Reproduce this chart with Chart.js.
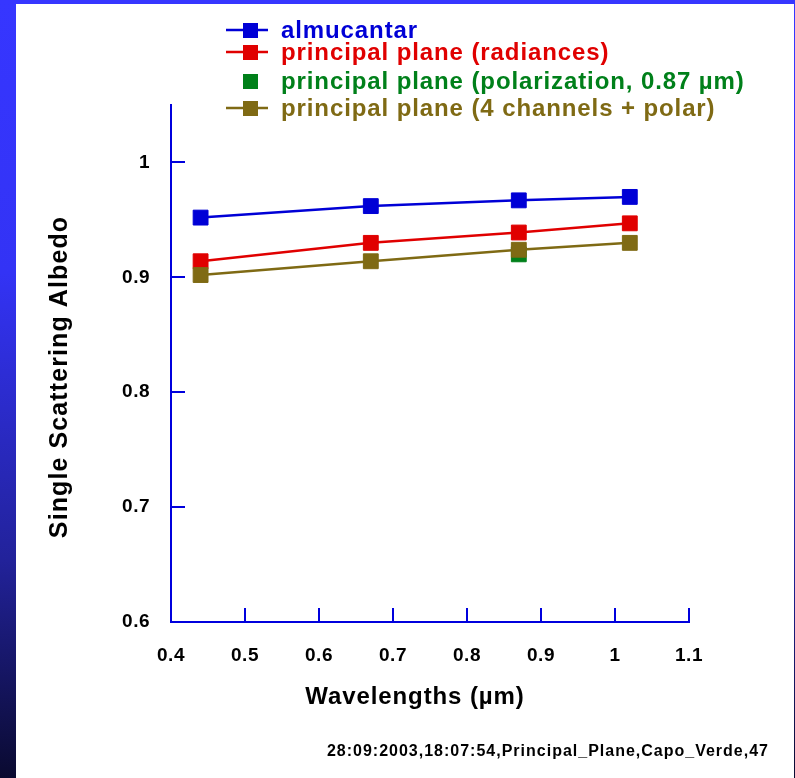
<!DOCTYPE html>
<html>
<head>
<meta charset="utf-8">
<script src="https://cdn.jsdelivr.net/npm/chart.js@4.4.1/dist/chart.umd.min.js"></script>
<style>
  html, body { margin: 0; padding: 0; }
  body {
    width: 795px; height: 778px; overflow: hidden; position: relative;
    background: linear-gradient(to bottom, #3636ff 0%, #3333f5 35%, #22229a 72%, #0a0a30 100%);
  }
  #sheet { position: absolute; left: 16px; top: 4px; width: 778px; height: 774px; background: #fff; }
  #wrap { position: absolute; left: 0; top: 0; width: 795px; height: 778px; }
</style>
</head>
<body>
<div id="sheet"></div>
<div id="wrap"><canvas id="albedoChart"></canvas></div>
<script>
var wavelengths = [0.44, 0.67, 0.87, 1.02];
var almucantar = [0.952, 0.962, 0.967, 0.970];
var ppRadiances = [0.914, 0.930, 0.939, 0.947];
var ppPolarization = [null, null, 0.920, null];
var ppCombined = [0.902, 0.914, 0.924, 0.930];

var xTicks = [0.4, 0.5, 0.6, 0.7, 0.8, 0.9, 1, 1.1];
var yTicks = [0.6, 0.7, 0.8, 0.9, 1];

var axisBlue = "#0000dd";
var fontFamily = "'Liberation Sans', Arial, sans-serif";

function points(values) {
    var out = [];
    for (var i = 0; i < values.length; i++) {
        if (values[i] !== null) out.push({x: wavelengths[i], y: values[i]});
    }
    return out;
}

function series(label, values, color, order, line) {
    return {
        label: label,
        data: points(values),
        borderColor: color,
        backgroundColor: color,
        borderWidth: 2.5,
        showLine: line,
        pointStyle: "rect",
        pointRadius: 10.5,
        pointHoverRadius: 10.5,
        pointBorderWidth: 1,
        order: order
    };
}

function plainNumber(v) { return String(+v.toFixed(2)); }

// slight letter spacing for the tick labels
var spacing = {
    id: "spacing",
    beforeUpdate: function (chart) { chart.ctx.letterSpacing = "0.5px"; },
    beforeDraw: function (chart) { chart.ctx.letterSpacing = "0.5px"; }
};

// inward ticks, axis titles, legend block and footer line
var extras = {
    id: "extras",
    afterDraw: function (chart) {
        var ctx = chart.ctx;
        var xs = chart.scales.x, ys = chart.scales.y;
        var area = chart.chartArea;
        ctx.save();
        ctx.strokeStyle = axisBlue;
        ctx.lineWidth = 2;
        ctx.beginPath();
        yTicks.forEach(function (v) {
            if (v === 0.6) return;
            var py = Math.round(ys.getPixelForValue(v));
            ctx.moveTo(area.left, py);
            ctx.lineTo(area.left + 14, py);
        });
        xTicks.forEach(function (v) {
            if (v === 0.4) return;
            var px = Math.round(xs.getPixelForValue(v));
            ctx.moveTo(px, area.bottom);
            ctx.lineTo(px, area.bottom - 14);
        });
        ctx.stroke();

        // axis titles
        ctx.fillStyle = "#000";
        ctx.textAlign = "center";
        ctx.textBaseline = "middle";
        ctx.letterSpacing = "0.9px";
        ctx.font = "bold 24px " + fontFamily;
        ctx.fillText("Wavelengths (\u00b5m)", 415, 697);
        ctx.save();
        ctx.translate(60, 378);
        ctx.rotate(-Math.PI / 2);
        ctx.letterSpacing = "1.1px";
        ctx.font = "bold 25px " + fontFamily;
        ctx.fillText("Single Scattering Albedo", 1, 0);
        ctx.restore();

        // legend
        var rows = [30, 52, 81, 108];
        ctx.font = "bold 24px " + fontFamily;
        ctx.letterSpacing = "0.9px";
        ctx.textAlign = "left";
        chart.data.datasets.forEach(function (ds, r) {
            var cy = rows[r];
            if (ds.showLine) {
                ctx.strokeStyle = ds.borderColor;
                ctx.lineWidth = 2.5;
                ctx.beginPath();
                ctx.moveTo(226, cy);
                ctx.lineTo(268, cy);
                ctx.stroke();
            }
            ctx.fillStyle = ds.backgroundColor;
            ctx.fillRect(243, cy - 7, 15, 15);
            ctx.fillText(ds.label, 281, cy + 1);
        });

        // footer
        ctx.font = "bold 16px " + fontFamily;
        ctx.letterSpacing = "1px";
        ctx.fillStyle = "#000";
        ctx.textAlign = "right";
        ctx.fillText("28:09:2003,18:07:54,Principal_Plane,Capo_Verde,47", 769, 752);
        ctx.restore();
    }
};

var config = {
    type: "line",
    data: {
        datasets: [
            series("almucantar", almucantar, "#0000d6", 3, true),
            series("principal plane (radiances)", ppRadiances, "#e00000", 1, true),
            series("principal plane (polarization, 0.87 \u00b5m)", ppPolarization, "#00801a", 2, false),
            series("principal plane (4 channels + polar)", ppCombined, "#7f6a14", 0, true)
        ]
    },
    options: {
        responsive: false,
        animation: false,
        events: [],
        layout: { padding: { top: 105, right: 106, left: 0, bottom: 0 } },
        plugins: { legend: { display: false }, tooltip: { enabled: false } },
        scales: {
            x: {
                type: "linear",
                min: 0.4,
                max: 1.1,
                afterBuildTicks: function (s) { s.ticks = xTicks.map(function (v) { return {value: v}; }); },
                afterFit: function (s) { s.height = 156; },
                grid: { drawOnChartArea: false, drawTicks: false },
                border: { color: axisBlue, width: 2 },
                ticks: {
                    color: "#000",
                    padding: 22,
                    maxRotation: 0,
                    callback: plainNumber,
                    font: { family: fontFamily, size: 19, weight: "bold" }
                }
            },
            y: {
                type: "linear",
                min: 0.6,
                max: 1.05,
                afterBuildTicks: function (s) { s.ticks = yTicks.map(function (v) { return {value: v}; }); },
                afterFit: function (s) { s.width = 171; },
                grid: { drawOnChartArea: false, drawTicks: false },
                border: { color: axisBlue, width: 2 },
                ticks: {
                    color: "#000",
                    padding: 21,
                    callback: plainNumber,
                    font: { family: fontFamily, size: 19, weight: "bold" }
                }
            }
        }
    },
    plugins: [spacing, extras]
};

var canvasElement = document.getElementById("albedoChart");
canvasElement.width = 795;
canvasElement.height = 778;
var albedoChart = new Chart(canvasElement, config);
</script>
</body>
</html>
